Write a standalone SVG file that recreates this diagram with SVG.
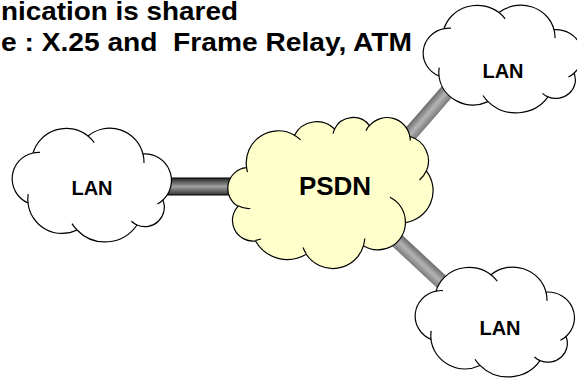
<svg xmlns="http://www.w3.org/2000/svg" xmlns:xlink="http://www.w3.org/1999/xlink" width="577" height="379" viewBox="0 0 577 379">
<style>
.title{font-family:"Liberation Sans",Arial,sans-serif;font-weight:bold;font-size:26px;fill:#000}
.lbl{font-family:"Liberation Sans",Arial,sans-serif;font-weight:bold;font-size:20px;fill:#000;text-anchor:middle}
.big{font-size:26px}
.lan{fill:#fff;stroke:#000;stroke-width:1.2}
.psdn{fill:#ffffcc;stroke:#000;stroke-width:1.2}
.cr{fill:none;stroke:#000;stroke-width:1.2}
</style>
<defs>
<path id="lancloud" vector-effect="non-scaling-stroke" d="M21,25 A34.7,34.7 0 0 1 76,8 A34.2,34.2 0 0 1 131,26 A26.6,26.6 0 0 1 151,72 A19.5,19.5 0 0 1 125,97 A38.8,38.8 0 0 1 65,102 A34.2,34.2 0 0 1 16,75 A26.4,26.4 0 0 1 21,25 Z"/>
<path id="lancrease" vector-effect="non-scaling-stroke" fill="none" d="M21,25 A26.4,26.4 0 0 1 27.9,24.4 M76,8 A34.7,34.7 0 0 1 82.2,14.6 M131,26 A34.2,34.2 0 0 1 132,34.9 M151,72 A26.6,26.6 0 0 1 145.4,76 M125,97 A19.5,19.5 0 0 1 119.4,93.3 M65,102 A38.8,38.8 0 0 1 60,95.6 M16,75 A34.2,34.2 0 0 1 16.2,66.1"/>
<path id="cloud" vector-effect="non-scaling-stroke" d="M9.03,33.26 A15.63,21.27 0 0 1 32.42,12.04 A12.35,16.82 0 0 1 51.98,7.95 A10.10,13.76 0 0 1 69.06,5.75 A11.24,15.27 0 0 1 88.70,12.91 A12.35,16.84 0 0 1 96.80,35.79 A15.68,21.34 0 0 1 86.58,69.91 A13.39,18.21 0 0 1 66.10,85.22 A15.63,21.33 0 0 1 38.15,90.89 A17.87,24.41 0 0 1 13.44,82.10 A10.09,13.70 0 0 1 4.89,59.14 A10.06,13.76 0 0 1 8.94,33.57 Z"/>
<path id="crease" vector-effect="non-scaling-stroke" fill="none" d="M10.86,60.60 A10.06,13.76 0 0 1 5.00,58.75 M16.04,80.79 A10.09,13.70 0 0 1 13.47,81.67 M38.14,90.49 A15.63,21.33 0 0 1 36.60,86.46 M66.73,80.44 A15.63,21.33 0 0 1 66.11,84.86 M79.00,53.13 A13.39,18.21 0 0 1 86.53,69.65 M96.76,35.54 A12.35,16.84 0 0 1 93.40,41.74 M88.71,12.56 A11.24,15.27 0 0 1 88.89,15.49 M67.31,9.15 A11.24,15.27 0 0 1 69.02,5.43 M51.25,10.93 A10.10,13.76 0 0 1 52.08,7.71 M32.41,12.02 A15.63,21.27 0 0 1 35.42,15.14 M9.55,36.55 A15.63,21.27 0 0 1 9.03,33.27"/>
<linearGradient id="gH" x1="0" y1="0" x2="0" y2="1">
<stop offset="0" stop-color="#222"/>
<stop offset="0.5" stop-color="#a0a0a0"/>
<stop offset="1" stop-color="#333"/>
</linearGradient>
<linearGradient id="gD" x1="0" y1="0" x2="0" y2="1">
<stop offset="0" stop-color="#6a6a6a"/>
<stop offset="0.5" stop-color="#b4b4b4"/>
<stop offset="1" stop-color="#7a7a7a"/>
</linearGradient>
</defs>

<g id="title">
<text class="title" x="1" y="19.5" textLength="237" lengthAdjust="spacingAndGlyphs">nication is shared</text>
<text class="title" x="1" y="51" textLength="411" lengthAdjust="spacingAndGlyphs" xml:space="preserve">e : X.25 and  Frame Relay, ATM</text>
</g>

<g id="connectors">
<rect x="165" y="178" width="72" height="17" fill="url(#gH)" stroke="#000" stroke-width="1"/>
<rect x="0" y="-7.5" width="90" height="15" fill="url(#gD)" transform="translate(398,148) rotate(-49)"/>
<rect x="0" y="-7.5" width="80" height="15" fill="url(#gD)" transform="translate(388,232) rotate(43)"/>
</g>

<g id="lan-left">
<g transform="translate(12,128)"><use xlink:href="#lancloud" class="lan"/><use xlink:href="#lancrease" class="cr"/></g>
<text class="lbl" x="92" y="195">LAN</text>
</g>

<g id="psdn">
<g transform="translate(228,117) scale(2.05,1.51)"><use xlink:href="#cloud" class="psdn"/><use xlink:href="#crease" class="cr"/></g>
<text class="lbl big" x="335" y="195">PSDN</text>
</g>

<g id="lan-top">
<g transform="translate(423,5) scale(1,0.947)"><use xlink:href="#lancloud" class="lan"/><use xlink:href="#lancrease" class="cr"/></g>
<text class="lbl" x="503" y="78">LAN</text>
</g>

<g id="lan-bottom">
<g transform="translate(415,267) scale(1,0.965)"><use xlink:href="#lancloud" class="lan"/><use xlink:href="#lancrease" class="cr"/></g>
<text class="lbl" x="500" y="335">LAN</text>
</g>
</svg>
